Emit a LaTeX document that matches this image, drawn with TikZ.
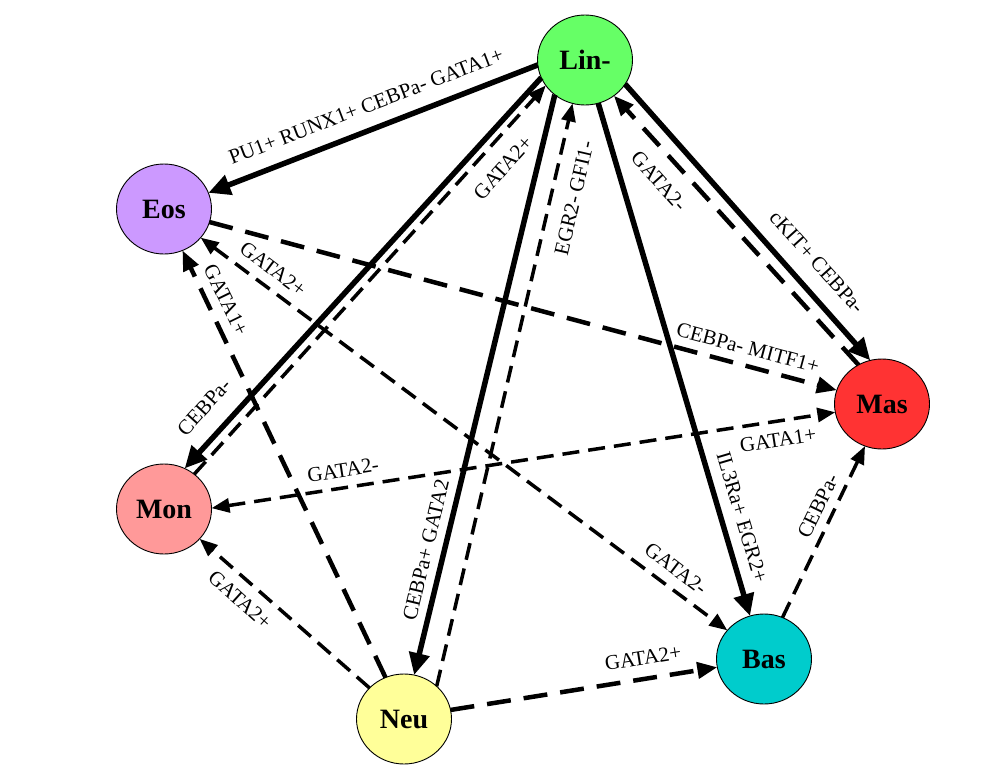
\documentclass[tikz,border=0pt]{standalone}
\usepackage{fontspec}
\setmainfont{Liberation Serif}
\usetikzlibrary{arrows.meta,shapes.geometric}
\definecolor{lincol}{RGB}{102,255,102}
\definecolor{eoscol}{RGB}{204,153,255}
\definecolor{mascol}{RGB}{255,51,51}
\definecolor{moncol}{RGB}{255,153,153}
\definecolor{bascol}{RGB}{0,204,204}
\definecolor{neucol}{RGB}{255,255,153}
\begin{document}
\begin{tikzpicture}[x=1pt,y=-1pt,
  cell/.style={ellipse, draw=black, line width=0.9pt, minimum width=95pt,
    minimum height=90pt, inner sep=0pt, outer sep=0pt,
    font=\fontsize{28}{30}\selectfont\bfseries},
  lbl/.style={font=\fontsize{21}{23}\selectfont, inner sep=0pt},
  strong/.style={line width=5.5pt, -{Triangle[length=22pt,width=20pt]}},
  weak/.style={line width=4.5pt, dash pattern=on 24pt off 13pt,
    -{Triangle[length=20pt,width=16pt]}},
  faint/.style={line width=3.5pt, dash pattern=on 17pt off 9pt,
    -{Triangle[length=18pt,width=14pt]}},
  twoway/.style={line width=3.5pt, dash pattern=on 17pt off 9pt,
    {Triangle[length=18pt,width=14pt]}-{Triangle[length=18pt,width=14pt]}},
]
\useasboundingbox (0,0) rectangle (988,779);

% cell populations
\node[cell, fill=lincol] (lin) at (585,60)  {Lin-};
\node[cell, fill=eoscol] (eos) at (164,209) {Eos};
\node[cell, fill=mascol] (mas) at (882,404) {Mas};
\node[cell, fill=moncol] (mon) at (164,509) {Mon};
\node[cell, fill=bascol] (bas) at (764,659) {Bas};
\node[cell, fill=neucol] (neu) at (404,719) {Neu};

% transitions out of the progenitor
\draw[strong] (lin.186) -- (eos.20);
\draw[strong] (lin.202) -- (mon.63);
\draw[strong] (lin.229) -- (neu.77);
\draw[strong] (lin.287) -- (bas.108);
\draw[strong] (lin.329) -- (mas.105);

% transitions back to the progenitor
\draw[faint] (mon.49) -- (lin.213);
\draw[faint] (neu.45) -- (lin.254);
\draw[weak]  (mas.121) -- (lin.309);

% transitions between mature populations
\draw[weak]   (eos.-16) -- (mas.163);
\draw[twoway] (mon.1) -- (mas.190);
\draw[twoway] (eos.-38) -- (bas.142);
\draw[weak]   (neu.114) -- (eos.-66);
\draw[faint]  (neu.138) -- (mon.-40);
\draw[weak]   (neu.11) -- (bas.190);
\draw[faint]  (bas.66) -- (mas.-112);

% edge labels
\node[lbl, rotate=21]  (t1)  at (366,106) {PU1+ RUNX1+ CEBPa- GATA1+};
\node[lbl, rotate=48]  (t2)  at (503,168) {GATA2+};
\node[lbl, rotate=48]  (t3)  at (204,407) {CEBPa-};
\node[lbl, rotate=77]  (t4)  at (574,198) {EGR2- GFI1-};
\node[lbl, rotate=76.5] (t5) at (426,550) {CEBPa+ GATA2};
\node[lbl, rotate=-48] (t6)  at (659,181) {GATA2-};
\node[lbl, rotate=-48] (t7)  at (817,262) {cKIT+ CEBPa-};
\node[lbl, rotate=-73.5] (t8) at (742,517) {IL3Ra+ EGR2+};
\node[lbl, rotate=-15] (t9)  at (748,348) {CEBPa- MITF1+};
\node[lbl, rotate=9]   (t10) at (778,440) {GATA1+};
\node[lbl, rotate=9]   (t11) at (343,470) {GATA2-};
\node[lbl, rotate=-37] (t12) at (273,269) {GATA2+};
\node[lbl, rotate=-37] (t13) at (676,569) {GATA2-};
\node[lbl, rotate=-64] (t14) at (226,300) {GATA1+};
\node[lbl, rotate=-42] (t15) at (240,600) {GATA2+};
\node[lbl, rotate=9]   (t16) at (643,658) {GATA2+};
\node[lbl, rotate=64]  (t17) at (818,506) {CEBPa-};
\end{tikzpicture}
\end{document}
